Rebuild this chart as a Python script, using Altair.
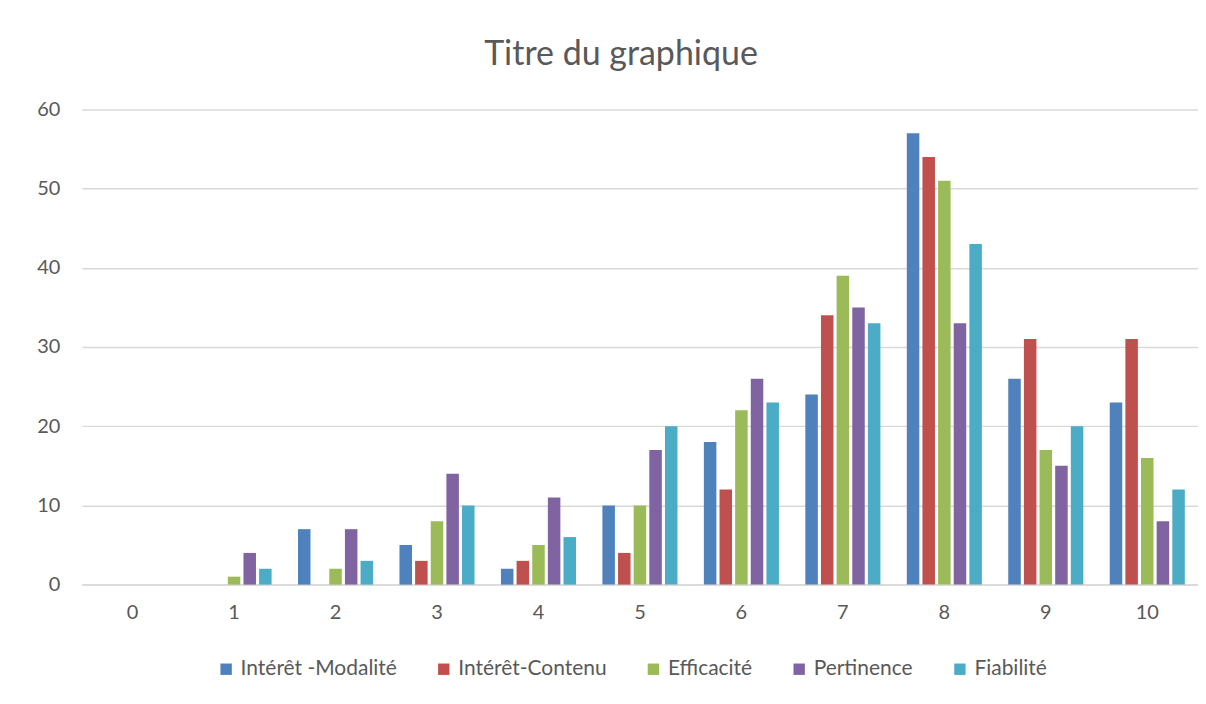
import altair as alt
import pandas as pd

categories = ["0", "1", "2", "3", "4", "5", "6", "7", "8", "9", "10"]
series_names = ["Intérêt -Modalité", "Intérêt-Contenu", "Efficacité", "Pertinence", "Fiabilité"]
interet_modalite = [0, 0, 7, 5, 2, 10, 18, 24, 57, 26, 23]
interet_contenu = [0, 0, 0, 3, 3, 4, 12, 34, 54, 31, 31]
efficacite = [0, 1, 2, 8, 5, 10, 22, 39, 51, 17, 16]
pertinence = [0, 4, 7, 14, 11, 17, 26, 35, 33, 15, 8]
fiabilite = [0, 2, 3, 10, 6, 20, 23, 33, 43, 20, 12]
colors = ["#4F81BD", "#C0504D", "#9BBB59", "#8064A2", "#4BACC6"]

all_series = [interet_modalite, interet_contenu, efficacite, pertinence, fiabilite]
rows = []
for name, vals in zip(series_names, all_series):
    for c, v in zip(categories, vals):
        rows.append({"cat": c, "serie": name, "val": v})
df = pd.DataFrame(rows)

FONT = "Lato"
GRAY = "#595959"

x_enc = alt.X("cat:N", sort=categories, title=None,
              scale=alt.Scale(paddingInner=0.26, paddingOuter=0.13),
              axis=alt.Axis(labelAngle=0, ticks=False, domainColor="#d9d9d9",
                            domainWidth=1.5, labelColor=GRAY, labelFontSize=20,
                            labelFont=FONT, labelPadding=18))
xoff = alt.XOffset("serie:N", sort=series_names,
                   scale=alt.Scale(paddingInner=0.2, paddingOuter=0))

bars = alt.Chart(df).mark_bar().encode(
    x=x_enc,
    xOffset=xoff,
    y=alt.Y("val:Q", title=None,
            scale=alt.Scale(domain=[0, 60]),
            axis=alt.Axis(values=[0, 10, 20, 30, 40, 50, 60], domain=False, ticks=False,
                          gridColor="#d9d9d9", gridWidth=1.5, labelColor=GRAY,
                          labelFontSize=20, labelFont=FONT, labelPadding=22)),
    color=alt.Color("serie:N", sort=series_names, title=None,
                    scale=alt.Scale(domain=series_names, range=colors),
                    legend=alt.Legend(orient="none", direction="horizontal",
                                      legendX=134, legendY=550,
                                      symbolType="square", symbolSize=130,
                                      symbolStrokeWidth=0,
                                      labelFontSize=21, labelFont=FONT,
                                      labelColor=GRAY, columnPadding=36,
                                      labelOffset=4)),
)

chart = bars.properties(
    width=1118,
    height=476,
    title=alt.TitleParams("Titre du graphique", fontSize=34, font=FONT,
                          color=GRAY, fontWeight="normal", offset=27, dx=-19),
    autosize=alt.AutoSizeParams(type="none"),
    padding={"left": 74, "top": 101, "right": 0, "bottom": 110},
).configure_view(stroke=None)

chart.save("out.html", embed_options={"renderer": "svg", "actions": False})
